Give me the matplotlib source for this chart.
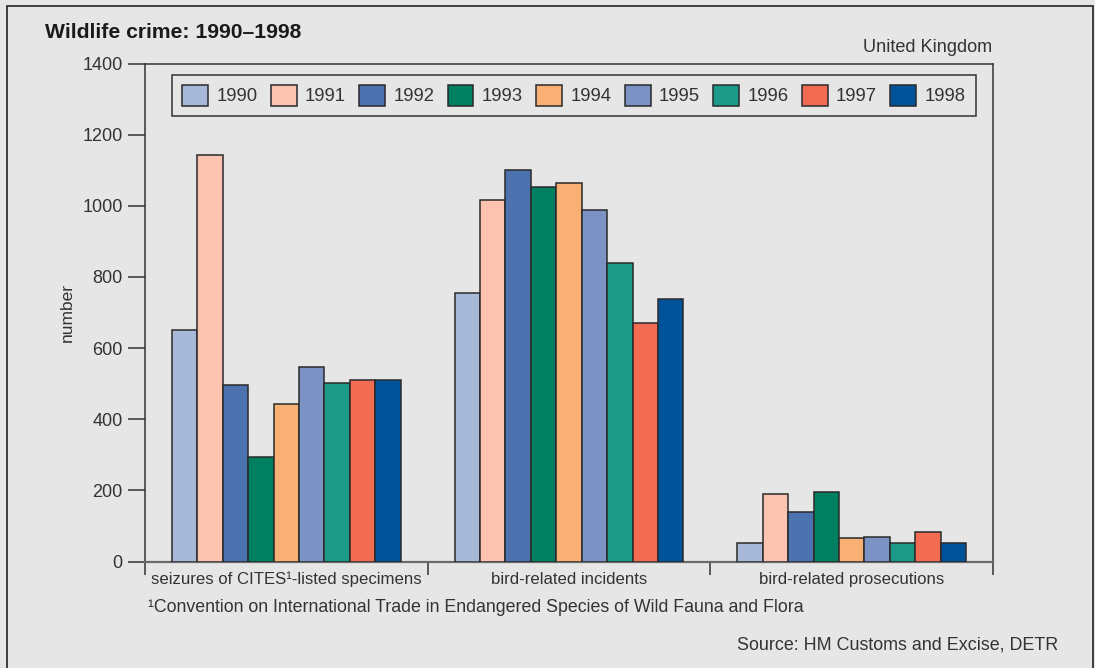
import numpy as np
import matplotlib
matplotlib.use("Agg")
import matplotlib.pyplot as plt
from matplotlib.patches import Rectangle

plt.rcParams['font.family'] = ['Liberation Sans', 'DejaVu Sans']

# Wildlife crime counts, United Kingdom
categories = ['seizures of CITES\u00b9-listed specimens', 'bird-related incidents', 'bird-related prosecutions']
years = ['1990', '1991', '1992', '1993', '1994', '1995', '1996', '1997', '1998']
seizures = [650, 1143, 495, 294, 442, 547, 502, 510, 511]
incidents = [755, 1015, 1102, 1054, 1065, 987, 840, 670, 737]
prosecutions = [52, 189, 140, 194, 65, 69, 52, 83, 51]
colors = ['#a8b8d9', '#fbc3b0', '#4d72b0', '#008060', '#f9b074',
          '#7b93c4', '#1c9a87', '#f16c53', '#00529b']

values = np.array([seizures, incidents, prosecutions])

bg = '#e6e6e6'
dark = '#333333'

fig = plt.figure(figsize=(10.95, 6.68), dpi=100, facecolor=bg)
fig.patches.append(Rectangle((7 / 1095, -0.01), 1086 / 1095, 1 - 6 / 668 + 0.01,
                             transform=fig.transFigure, fill=False,
                             edgecolor='#222222', lw=1.2))

ax = fig.add_axes([145 / 1095, 1 - 561.5 / 668, 848 / 1095, 498 / 668])
ax.set_facecolor(bg)

width = 0.09
x = np.arange(len(categories)) + 0.5
for i, yr in enumerate(years):
    ax.bar(x + (i - 4) * width, values[:, i], width, color=colors[i],
           edgecolor='#2a2a2a', linewidth=1.1, label=yr, zorder=3)

ax.set_xlim(0, 3)
ax.set_ylim(0, 1400)
ax.set_yticks(range(0, 1401, 200))
ax.tick_params(axis='y', direction='out', length=12, width=1.1, color=dark,
               labelsize=13, labelcolor=dark, pad=4)

ax.set_xticks([0, 1, 2, 3])
ax.set_xticklabels([])
ax.set_xticks(x, minor=True)
ax.set_xticklabels(categories, minor=True, fontsize=12.1, color=dark)
ax.tick_params(axis='x', which='major', direction='out', length=9, width=1.1, color=dark)
ax.tick_params(axis='x', which='minor', length=0, pad=7.5)

for side in ['left', 'right', 'top']:
    ax.spines[side].set_color(dark)
    ax.spines[side].set_linewidth(1.1)
ax.spines['bottom'].set_color('#6a6a6a')
ax.spines['bottom'].set_linewidth(1.6)

ax.set_ylabel('number', fontsize=12.5, color=dark)
ax.yaxis.set_label_coords(-70 / 848, 0.5)

leg = ax.legend(ncol=9, loc='upper left', bbox_to_anchor=(27 / 848, 1 - 11 / 498),
                borderaxespad=0, fontsize=13.3, frameon=True, fancybox=False,
                handlelength=1.4, handleheight=1.4, handletextpad=0.45,
                columnspacing=0.72, borderpad=0.55, labelcolor=dark)
leg.get_frame().set_facecolor(bg)
leg.get_frame().set_edgecolor(dark)
leg.get_frame().set_linewidth(1.1)
leg.get_frame().set_alpha(1)

fig.text(45 / 1095, 1 - 32 / 668, 'Wildlife crime: 1990\u20131998', fontsize=15.2,
         fontweight='bold', color='#1a1a1a', va='center', ha='left')
fig.text(992 / 1095, 1 - 48 / 668, 'United Kingdom', fontsize=13.1, color=dark,
         va='center', ha='right')
fig.text(148 / 1095, 1 - 607 / 668,
         '\u00b9Convention on International Trade in Endangered Species of Wild Fauna and Flora',
         fontsize=12.8, color=dark, va='center', ha='left')
fig.text(1058 / 1095, 1 - 645 / 668, 'Source: HM Customs and Excise, DETR',
         fontsize=12.9, color=dark, va='center', ha='right')

fig.savefig('out.png', dpi=100, facecolor=bg)
